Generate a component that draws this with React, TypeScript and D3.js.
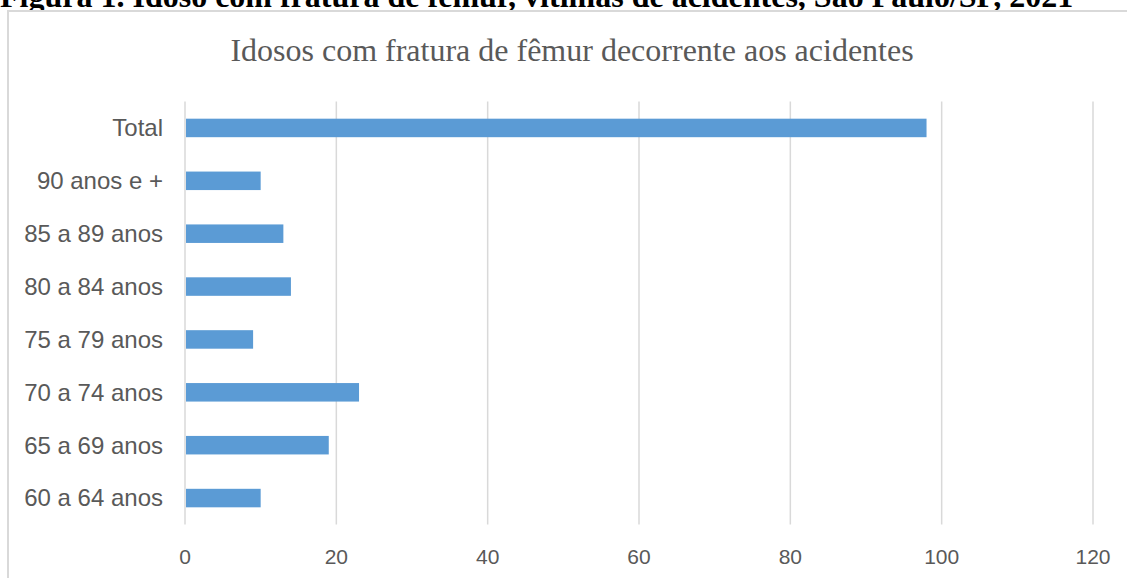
import React, { useRef, useEffect } from 'react';
import * as d3 from 'd3';

const categories = ['Total', '90 anos e +', '85 a 89 anos', '80 a 84 anos', '75 a 79 anos', '70 a 74 anos', '65 a 69 anos', '60 a 64 anos'];
const values = [98, 10, 13, 14, 9, 23, 19, 10];
const xTicks = [0, 20, 40, 60, 80, 100, 120];
const figureTitle = 'Figura 1. Idoso com fratura de fêmur, vítimas de acidentes, São Paulo/SP, 2021';
const chartTitle = 'Idosos com fratura de fêmur decorrente aos acidentes';

const App = () => {
  const ref = useRef<SVGSVGElement>(null);

  useEffect(() => {
    if (!ref.current) return;
    const svg = d3.select(ref.current);
    svg.selectAll('*').remove();

    const width = 1127;
    const height = 578;
    const margin = { top: 101.5, right: 34, bottom: 53.5, left: 185 };

    // figure caption, cut at the top of the page
    svg.append('text')
      .attr('x', 0)
      .attr('y', 6.5)
      .style('font-family', '"Liberation Serif", "Times New Roman", serif')
      .style('font-weight', 'bold')
      .style('font-size', '32px')
      .attr('fill', '#000')
      .text(figureTitle);

    // chart frame
    svg.append('rect')
      .attr('x', 8)
      .attr('y', 11)
      .attr('width', width + 20)
      .attr('height', height + 20)
      .attr('fill', '#fff')
      .attr('stroke', '#d9d9d9')
      .attr('stroke-width', 2);

    const x = d3.scaleLinear()
      .domain([0, 120])
      .range([margin.left, width - margin.right]);

    const y = d3.scaleBand()
      .domain(categories)
      .range([margin.top, height - margin.bottom])
      .paddingInner(0.65)
      .paddingOuter(0.325);

    // gridlines
    svg.append('g')
      .selectAll('line')
      .data(xTicks)
      .join('line')
      .attr('x1', d => x(d))
      .attr('x2', d => x(d))
      .attr('y1', margin.top)
      .attr('y2', height - margin.bottom)
      .attr('stroke', '#d9d9d9')
      .attr('stroke-width', 1.5);

    // bars
    svg.append('g')
      .selectAll('rect')
      .data(values)
      .join('rect')
      .attr('x', x(0) + 1)
      .attr('y', (d, i) => y(categories[i]) as number)
      .attr('width', d => x(d) - x(0) - 1)
      .attr('height', y.bandwidth())
      .attr('fill', '#5b9bd5');

    // category labels
    svg.append('g')
      .selectAll('text')
      .data(categories)
      .join('text')
      .attr('x', margin.left - 22)
      .attr('y', d => (y(d) as number) + y.bandwidth() / 2)
      .attr('dy', '0.35em')
      .attr('text-anchor', 'end')
      .style('font-family', '"Liberation Sans", Arial, sans-serif')
      .style('font-size', '24px')
      .attr('fill', '#595959')
      .text(d => d);

    // tick labels
    svg.append('g')
      .selectAll('text')
      .data(xTicks)
      .join('text')
      .attr('x', d => x(d))
      .attr('y', 564)
      .attr('text-anchor', 'middle')
      .style('font-family', '"Liberation Sans", Arial, sans-serif')
      .style('font-size', '21px')
      .attr('fill', '#595959')
      .text(d => d);

    // chart title
    svg.append('text')
      .attr('x', 572)
      .attr('y', 61)
      .attr('text-anchor', 'middle')
      .style('font-family', '"Liberation Serif", "Times New Roman", serif')
      .style('font-size', '32px')
      .attr('fill', '#595959')
      .text(chartTitle);
  }, []);

  return (
    <svg
      ref={ref}
      width="1127"
      height="578"
      style={{ position: 'absolute', top: 0, left: 0, background: '#fff' }}
    ></svg>
  );
};

export default App;
